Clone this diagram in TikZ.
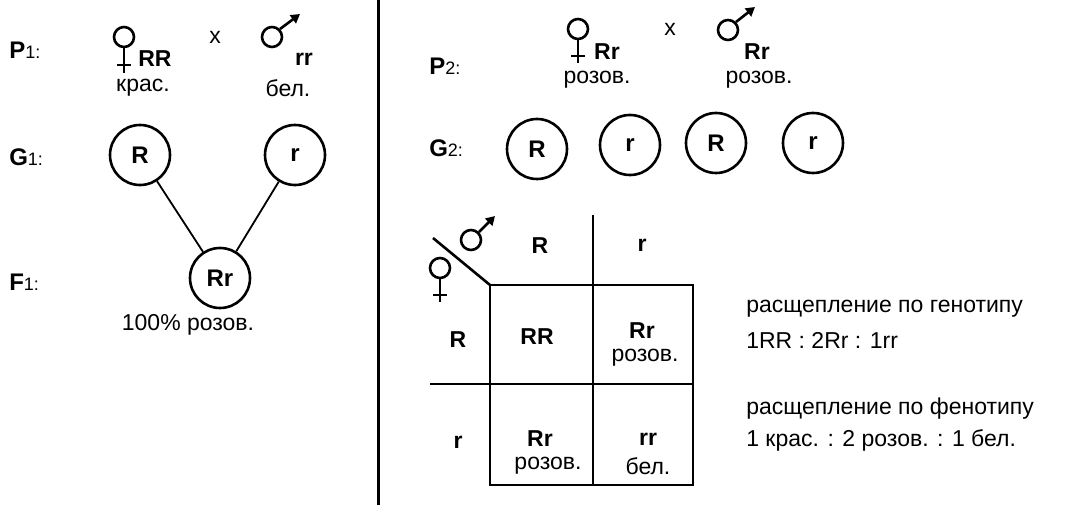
\documentclass[tikz,border=0pt]{standalone}
\usepackage{fontspec}
\setmainfont{Liberation Sans}
\usetikzlibrary{arrows.meta}
\begin{document}
\begin{tikzpicture}[x=1pt,y=-1pt,line width=2.6pt,
 t/.style={font=\fontsize{23}{24}\selectfont,inner sep=0pt},
 b/.style={t,font=\fontsize{23}{24}\selectfont\bfseries},
 g/.style={circle,draw,minimum size=60pt,inner sep=0pt,font=\fontsize{24}{26}\selectfont\bfseries},
 sym/.style={circle,draw,minimum size=20pt,inner sep=0pt},
 arr/.style={-{Triangle[length=9pt,width=10pt]}}]
\useasboundingbox (0,0) rectangle (1071,505);
\draw[line width=3pt] (378,0) -- (378,505);
% left labels
\node[anchor=west,inner sep=0pt] (p1) at (8,50) {\fontsize{24}{26}\selectfont\bfseries P\fontsize{18}{20}\selectfont\mdseries 1:};
\node[anchor=west,inner sep=0pt] (g1) at (8,157) {\fontsize{24}{26}\selectfont\bfseries G\fontsize{18}{20}\selectfont\mdseries 1:};
\node[anchor=west,inner sep=0pt] (f1) at (8,282) {\fontsize{24}{26}\selectfont\bfseries F\fontsize{18}{20}\selectfont\mdseries 1:};
% P1
\node[sym] (fa) at (124,37) {};
\draw (fa.south) -- (124,73) (117,65) -- (131,65);
\node[b] (rr1) at (155,59) {RR};
\node[t] (kr) at (143,88) {крас.};
\node[t] (x1) at (215,37) {x};
\node[sym] (ma) at (272,37) {};
\draw[arr] (ma.north east) -- (300,14);
\node[b] (rr2) at (304,59) {rr};
\node[t] (bel) at (288,88) {бел.};
% G1, F1
\node[g] (c1) at (140,155) {R};
\node[g] (c2) at (295,155) {r};
\node[g] (c3) at (220,278) {Rr};
\draw[line width=1.8pt] (c1) -- (c3) (c2) -- (c3);
\node[t] (pc) at (188,325) {100\% розов.};
% right
\node[anchor=west,inner sep=0pt] (p2) at (428,66) {\fontsize{24}{26}\selectfont\bfseries P\fontsize{18}{20}\selectfont\mdseries 2:};
\node[anchor=west,inner sep=0pt] (g2) at (428,148) {\fontsize{24}{26}\selectfont\bfseries G\fontsize{18}{20}\selectfont\mdseries 2:};
\node[sym] (fb) at (578,29) {};
\draw (fb.south) -- (578,63) (571,56) -- (585,56);
\node[b] (rr3) at (607,52) {Rr};
\node[t] (roz1) at (597,80) {розов.};
\node[t] (x2) at (670,29) {x};
\node[sym] (mb) at (728,30) {};
\draw[arr] (mb.north east) -- (755,7);
\node[b] (rr4) at (757,52) {Rr};
\node[t] (roz2) at (759,80) {розов.};
\node[g] (d1) at (537,149) {R};
\node[g] (d2) at (630,145) {r};
\node[g] (d3) at (716,143) {R};
\node[g] (d4) at (813,143) {r};
% Punnett
\draw (490,285) rectangle (693,485);
\draw (593,215) -- (593,485);
\draw (430,384) -- (693,384);
\draw (433,238) -- (490,285);
\node[sym] (mc) at (471,240) {};
\draw[arr] (mc.north east) -- (495,216);
\node[sym] (fc) at (440,268) {};
\draw (fc.south) -- (440,302) (433,295) -- (447,295);
\node[b] (hR) at (540,246) {R};
\node[b] (hr) at (642,245) {r};
\node[b] (vR) at (458,340) {R};
\node[b] (vr) at (458,442) {r};
\node[b] (c11) at (537,337) {RR};
\node[b] (c12) at (642,331) {Rr};
\node[t] (c12b) at (645,358) {розов.};
\node[b] (c21) at (540,439) {Rr};
\node[t] (c21b) at (548,466) {розов.};
\node[b] (c22) at (648,439) {rr};
\node[t] (c22b) at (648,466) {бел.};
\node[t,anchor=west] (s1) at (745,309) {расщепление по генотипу};
\node[t,anchor=west] (s2) at (745,340) {1RR : 2Rr : 1rr};
\node[t,anchor=west] (s3) at (745,409) {расщепление по фенотипу};
\node[t,anchor=west] (s4) at (745,440) {1 крас. : 2 розов. : 1 бел.};
\end{tikzpicture}
\end{document}
